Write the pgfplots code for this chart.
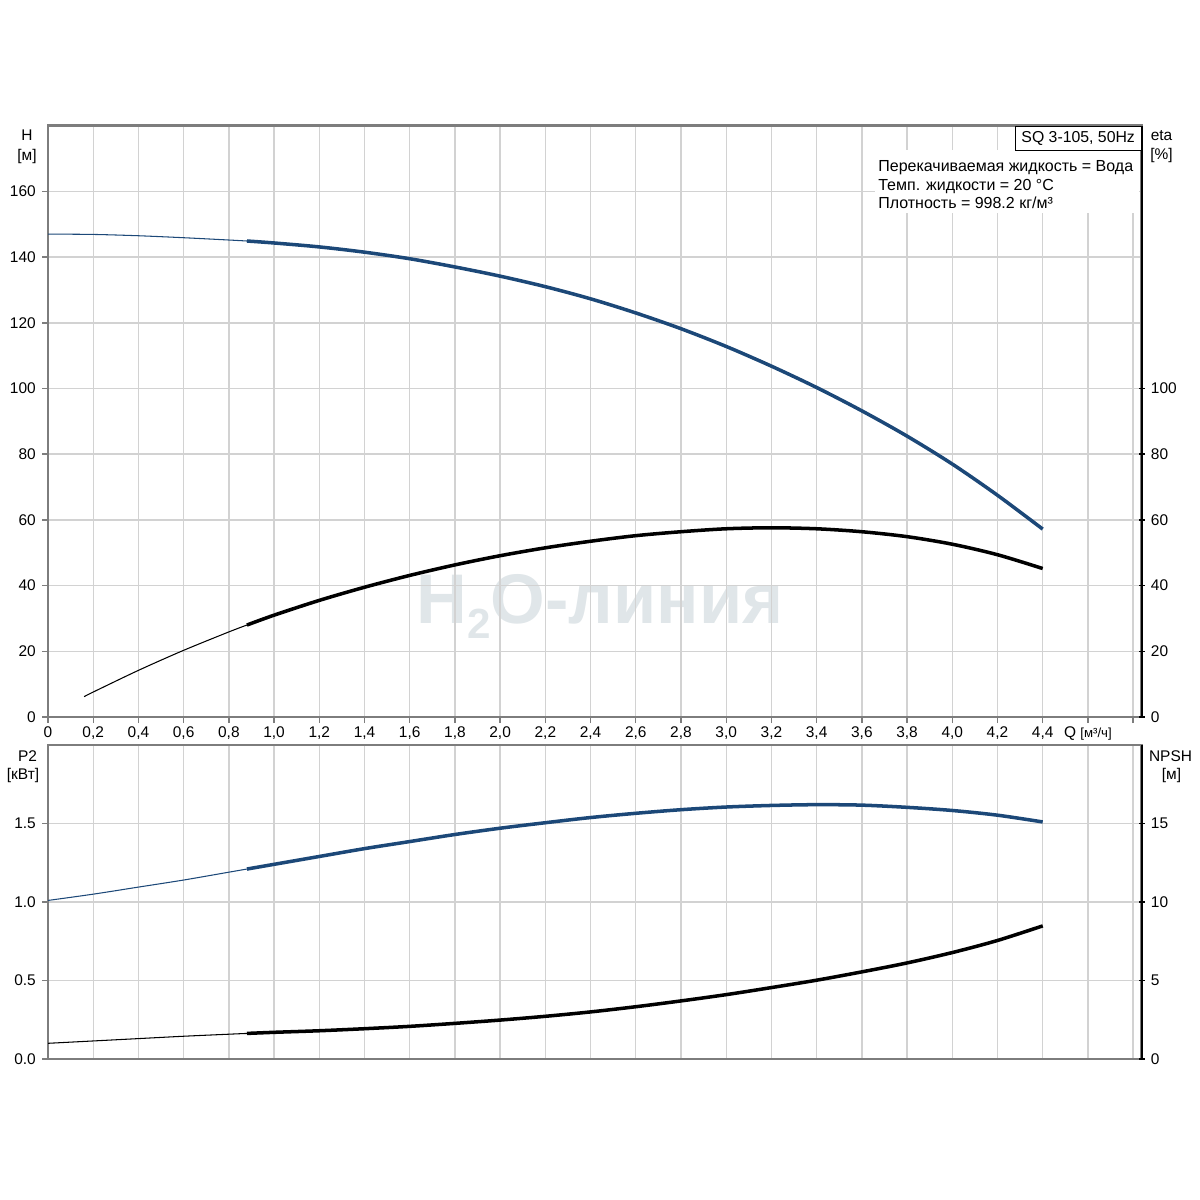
\documentclass[border=0pt]{standalone}
\usepackage{fontspec}
\setmainfont{Liberation Sans}
\usepackage{pgfplots}
\pgfplotsset{compat=1.18}
\definecolor{gridc}{RGB}{210,210,210}
\definecolor{axc}{RGB}{125,125,125}
\definecolor{curveblue}{RGB}{28,72,120}
\definecolor{wm}{RGB}{224,230,233}
\pgfplotsset{
  base/.style={
    scale only axis, width=21.874cm, xmin=0, xmax=4.838,
    xtick={0,0.2,0.4,0.6,0.8,1.0,1.2,1.4,1.6,1.8,2.0,2.2,2.4,2.6,2.8,3.0,3.2,3.4,3.6,3.8,4.0,4.2,4.4,4.6,4.8},
    tick label style={font=\fontsize{8.8}{10}\selectfont},
    /pgf/number format/assume math mode=true,
    tick align=outside, major tick length=0.12cm,
  },
  prim/.style={base, grid=major, major grid style={gridc, line width=0.8pt},
    axis line style={axc, line width=1.4pt}, tick style={axc, line width=0.8pt},
    tick pos=left},
  sec/.style={base, axis y line=right, axis x line=none,
    axis line style={black, line width=1.1pt, -}, ytick style={black, line width=0.8pt}},
  thin/.style={line width=0.6pt, smooth},
  thick/.style={line width=2pt, smooth},
}
\begin{document}
\begin{tikzpicture}
\path[use as bounding box] (0,0) rectangle (24,-24);
% watermark
\node[anchor=base, text=wm, font=\fontsize{40}{40}\selectfont\bfseries] at (12.0,-12.46) {H\raisebox{-0.22em}{\fontsize{24}{24}\selectfont 2}O-линия};
% ---------- top chart ----------
\begin{axis}[prim, at={(0.96cm,-14.34cm)}, anchor=south west, height=11.826cm,
  ymin=0, ymax=180, ytick={0,20,40,60,80,100,120,140,160},
  xticklabels={0,{0,2},{0,4},{0,6},{0,8},{1,0},{1,2},{1,4},{1,6},{1,8},{2,0},{2,2},{2,4},{2,6},{2,8},{3,0},{3,2},{3,4},{3,6},{3,8},{4,0},{4,2},{4,4},{Q {\fontsize{7.5}{8}\selectfont[м³/ч]}},{}},
  xtick style={axc, line width=0.8pt}, x tick label style={yshift=1.5pt}]
\addplot[thin, curveblue] coordinates {(0,147.0)(0.2,146.9)(0.4,146.5)(0.6,145.9)(0.8,145.2)(0.88,144.9)};
\addplot[thick, curveblue] coordinates {(0.88,144.9)(1.0,144.3)(1.2,143.1)(1.4,141.5)(1.6,139.5)(1.8,137.0)(2.0,134.2)(2.2,131.0)(2.4,127.3)(2.6,123.0)(2.8,118.2)(3.0,112.8)(3.2,106.8)(3.4,100.3)(3.6,93.2)(3.8,85.5)(4.0,77.0)(4.2,67.5)(4.4,57.2)};
\end{axis}
\begin{axis}[sec, at={(0.96cm,-14.34cm)}, anchor=south west, height=11.826cm,
  ymin=0, ymax=180, ytick={0,20,40,60,80,100}]
\addplot[thin, black] coordinates {(0.16,6.2)(0.2,7.6)(0.4,14.2)(0.6,20.3)(0.8,25.9)(0.88,28.0)};
\addplot[thick, black] coordinates {(0.88,28.0)(1.0,31.0)(1.2,35.5)(1.4,39.5)(1.6,43.1)(1.8,46.3)(2.0,49.1)(2.2,51.5)(2.4,53.5)(2.6,55.2)(2.8,56.4)(3.0,57.3)(3.2,57.6)(3.4,57.3)(3.6,56.4)(3.8,54.9)(4.0,52.6)(4.2,49.4)(4.4,45.2)};
\end{axis}
% ---------- bottom chart ----------
\begin{axis}[prim, at={(0.96cm,-21.18cm)}, anchor=south west, height=6.28cm,
  ymin=0, ymax=2, ytick={0,0.5,1,1.5}, yticklabels={0.0,0.5,1.0,1.5},
  xticklabels={}, xtick style={draw=none}]
\addplot[thin, curveblue] coordinates {(0,1.01)(0.2,1.05)(0.4,1.095)(0.6,1.14)(0.8,1.19)(0.88,1.21)};
\addplot[thick, curveblue] coordinates {(0.88,1.21)(1.0,1.24)(1.2,1.29)(1.4,1.34)(1.6,1.385)(1.8,1.43)(2.0,1.47)(2.2,1.505)(2.4,1.538)(2.6,1.565)(2.8,1.588)(3.0,1.605)(3.2,1.615)(3.4,1.62)(3.6,1.617)(3.8,1.603)(4.0,1.583)(4.2,1.553)(4.4,1.51)};
\end{axis}
\begin{axis}[sec, at={(0.96cm,-21.18cm)}, anchor=south west, height=6.28cm,
  ymin=0, ymax=20, ytick={0,5,10,15}]
\addplot[thin, black] coordinates {(0,1.0)(0.2,1.15)(0.4,1.3)(0.6,1.45)(0.8,1.58)(0.88,1.63)};
\addplot[thick, black] coordinates {(0.88,1.63)(1.0,1.7)(1.2,1.8)(1.4,1.93)(1.6,2.08)(1.8,2.27)(2.0,2.48)(2.2,2.72)(2.4,3.0)(2.6,3.33)(2.8,3.7)(3.0,4.1)(3.2,4.55)(3.4,5.02)(3.6,5.55)(3.8,6.12)(4.0,6.78)(4.2,7.55)(4.4,8.48)};
\end{axis}
% ---------- annotations ----------
\fill[white] (17.5,-3.0) rectangle (22.78,-4.26);
\node[draw=black, line width=0.6pt, anchor=north east, minimum width=2.52cm, minimum height=0.49cm, fill=white, inner sep=0pt, font=\fontsize{9}{10}\selectfont] at (22.834,-2.514) {SQ 3-105, 50Hz};
\begin{scope}[every node/.style={anchor=base west, inner sep=0pt, font=\fontsize{9.1}{10}\selectfont}]
\node at (17.56,-3.44) {Перекачиваемая жидкость = Вода};
\node at (17.56,-3.81) {Темп. жидкости = 20 °C};
\node at (17.56,-4.18) {Плотность = 998.2 кг/м³};
\end{scope}
\begin{scope}[every node/.style={inner sep=0pt, font=\fontsize{8.8}{10}\selectfont}]
\node at (0.54,-2.70) {H};
\node at (0.54,-3.13) {[м]};
\node at (23.23,-2.72) {eta};
\node at (23.23,-3.11) {[\%]};
\node at (0.55,-15.12) {P2};
\node at (0.46,-15.51) {[кВт]};
\node at (23.41,-15.12) {NPSH};
\node at (23.43,-15.51) {[м]};
\end{scope}
\end{tikzpicture}
\end{document}
